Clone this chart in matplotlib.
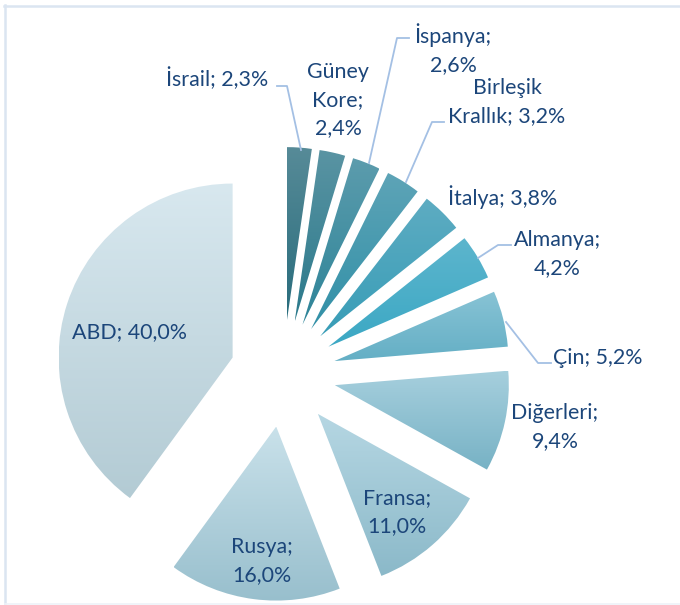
import numpy as np
import matplotlib
matplotlib.use("Agg")
from matplotlib import pyplot as plt
from matplotlib.colors import LinearSegmentedColormap
from matplotlib.lines import Line2D

# Data (clockwise from 12 o'clock)
countries = ["İsrail", "Güney Kore", "İspanya", "Birleşik Krallık", "İtalya",
             "Almanya", "Çin", "Diğerleri", "Fransa", "Rusya", "ABD"]
shares = [2.3, 2.4, 2.6, 3.2, 3.8, 4.2, 5.2, 9.4, 11.0, 16.0, 40.0]

# label text as shown (line breaks as in the chart)
label_texts = ["İsrail; 2,3%", "Güney\nKore;\n2,4%", "İspanya;\n2,6%",
               "Birleşik\nKrallık; 3,2%", "İtalya; 3,8%", "Almanya;\n4,2%",
               "Çin; 5,2%", "Diğerleri;\n9,4%", "Fransa;\n11,0%",
               "Rusya;\n16,0%", "ABD; 40,0%"]

# gradient colours per slice (top, bottom)
grad_top = ["#578b98", "#5a94a3", "#5c9cad", "#5ea4b7", "#5eacc2", "#5db5cd",
            "#88c3d5", "#a6cfdd", "#b6d7e3", "#c9e1ea", "#d8e8ef"]
grad_bot = ["#286c7c", "#2a798b", "#2d8498", "#3190a7", "#389db7", "#3ba8c4",
            "#64afc5", "#77b2c5", "#8bb9c9", "#98bfcd", "#b3cbd4"]

# layout in pixels
W, H = 680, 605
cx, cy = 283, 374      # pie centre (px)
R = 174                # radius (px)

def px(x, y):
    return (x - cx) / R, (cy - y) / R

label_pos = [(217, 79), (338, 100), (453, 49), (507, 102), (503, 197),
             (557, 254), (598, 358), (555, 427), (397, 512), (262, 561),
             (129, 332)]

leaders = {
    0: [(277, 86), (287, 86), (301, 150)],
    2: [(409, 38), (397, 38), (369, 163)],
    3: [(444, 122), (432, 122), (406, 182)],
    5: [(511, 245), (498, 245), (478, 258)],
    6: [(551, 363), (538, 363), (506, 322)],
}

text_color = "#1c467a"
line_color = "#a4c0e4"

fig = plt.figure(figsize=(W / 100, H / 100), dpi=100)
ax = fig.add_axes([0, 0, 1, 1])

wedges, _ = ax.pie(shares, startangle=90, counterclock=False,
                   explode=[53 / R] * len(shares), radius=1)

grad = np.linspace(0, 1, 256).reshape(-1, 1)
for i, w in enumerate(wedges):
    w.set_facecolor("none")
    w.set_edgecolor("none")
    ext = w.get_path().get_extents()
    cmap = LinearSegmentedColormap.from_list("g%d" % i, [grad_bot[i], grad_top[i]])
    ax.imshow(grad, extent=[ext.x0, ext.x1, ext.y0, ext.y1], origin="lower",
              cmap=cmap, aspect="auto", clip_path=w, zorder=1,
              interpolation="bilinear")

for i, txt in enumerate(label_texts):
    x, y = px(*label_pos[i])
    ax.text(x, y, txt, ha="center", va="center", multialignment="center",
            fontsize=15.4, family="Lato", color=text_color, linespacing=1.48,
            zorder=3)

for i, pts in leaders.items():
    xs, ys = zip(*[px(*p) for p in pts])
    ax.plot(xs, ys, color=line_color, lw=1.3, zorder=2)

ax.set_xlim(-cx / R, (W - cx) / R)
ax.set_ylim(-(H - cy) / R, cy / R)
ax.set_aspect("auto")
ax.axis("off")

# chart frame (partially visible)
border = "#dbe5f1"
fig.add_artist(Line2D([4 / W, 1], [1 - 5.5 / H, 1 - 5.5 / H], color=border, lw=1.8))
fig.add_artist(Line2D([5 / W, 5 / W], [0, 1 - 5 / H], color=border, lw=1.8))
fig.add_artist(Line2D([5 / W, 1], [1.5 / H, 1.5 / H], color="#eef2f8", lw=1.2))

fig.savefig("out.png", dpi=100)
